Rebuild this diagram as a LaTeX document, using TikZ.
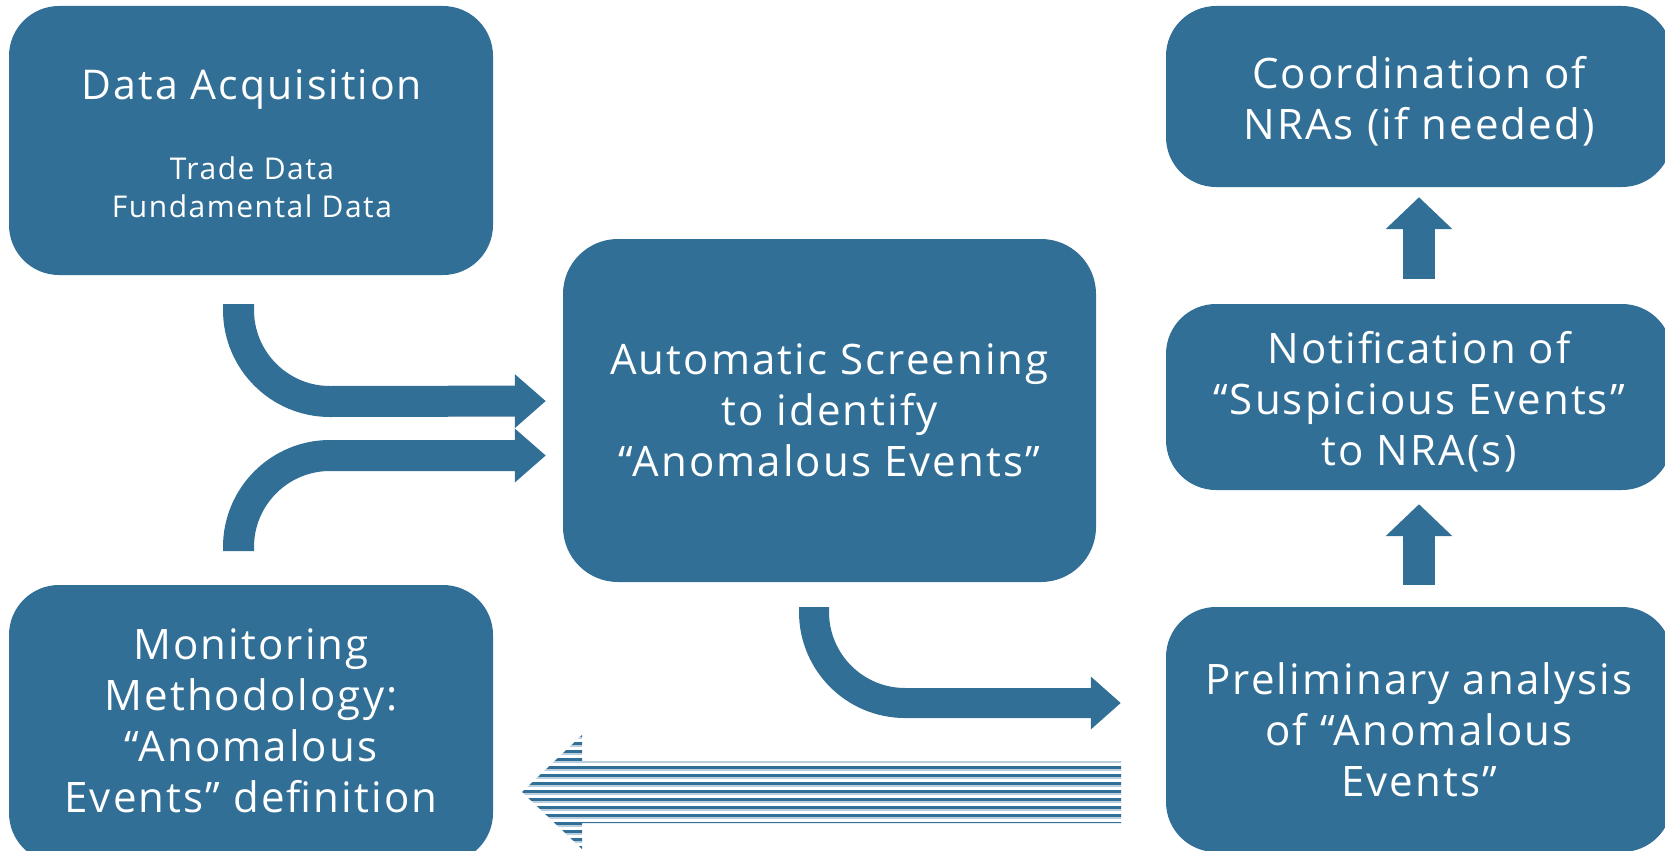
\documentclass[tikz,border=0pt]{standalone}
\usepackage{fontspec}
\setmainfont{Open Sans}[LetterSpace=5]
\usetikzlibrary{arrows.meta}
\definecolor{boxblue}{RGB}{49,111,150}
\definecolor{stripelight}{RGB}{185,207,223}
\begin{document}
\begin{tikzpicture}[x=1pt,y=-1pt,
  box/.style={fill=boxblue, rounded corners=50pt, inner sep=0pt, text=white, align=center, font=\fontsize{42}{51}\selectfont},
  boxtext/.style={text=white, align=center, inner sep=0pt, font=\fontsize{42}{51}\selectfont},
  bentarrow/.style={draw=boxblue, line width=31pt, -{Triangle[length=31pt,width=52pt]}},
  uparrow/.style={draw=boxblue, line width=32pt, -{Triangle[length=32pt,width=65pt]}},
]
\clip (0,0) rectangle (1665,851);
% boxes
\node[box, minimum width=484pt, minimum height=269pt] (acq) at (251,140.5) {};
\node[boxtext, font=\fontsize{41}{50}\selectfont] (acqtitle) at (252,89) {Data Acquisition};
\node[boxtext, font=\fontsize{30}{38}\selectfont] (acqsub) at (252,187) {Trade Data\\Fundamental Data};
\node[box, minimum width=533pt, minimum height=343pt, rounded corners=55pt] (auto) at (829.5,410.5) {Automatic Screening\\to identify\\“Anomalous Events”};
\node[box, minimum width=484pt, minimum height=278pt] (mon) at (251,724) {};
\node[boxtext] (montext) at (251,721) {Monitoring\\Methodology:\\“Anomalous\\Events” definition};
\node[box, minimum width=506pt, minimum height=181pt] (coord) at (1419,96.5) {};
\node[boxtext] (coordtext) at (1419,101.5) {Coordination of\\NRAs (if needed)};
\node[box, minimum width=506pt, minimum height=186pt] (notif) at (1419,397) {};
\node[boxtext] (notiftext) at (1419,401.5) {Notification of\\“Suspicious Events”\\to NRA(s)};
\node[box, minimum width=506pt, minimum height=245pt] (prelim) at (1419,729.5) {Preliminary analysis\\of “Anomalous\\Events”};
% bent arrows into screening
\coordinate (a1) at (238.5,304);
\coordinate (a2) at (238.5,551);
\coordinate (a3) at (814,607);
\draw[bentarrow, shorten >=17pt] (a1) -- ++(0,6) arc[start angle=180, end angle=90, radius=91.5] -- ([yshift=9.5pt]auto.west);
\draw[bentarrow, shorten >=17pt] (a2) -- ++(0,-4) arc[start angle=180, end angle=270, radius=91.5] -- ([yshift=-45pt]auto.west);
\draw[bentarrow, line width=30pt, -{Triangle[length=30pt,width=51pt]}, shorten >=45pt] (a3) -- ++(0,5) arc[start angle=180, end angle=90, radius=91] -- ([yshift=26.5pt]prelim.west);
% up arrows
\draw[uparrow, shorten <=22pt, shorten >=14pt] (prelim.north) -- (notif.south);
\draw[uparrow, shorten <=25pt, shorten >=10pt] (notif.north) -- (coord.south);
% striped arrow back to methodology
\coordinate (sa) at (1121,792);
\coordinate (sb) at (522,792);
\begin{scope}
  \clip (sa) ++(0,-31) -- (582,761) -- (582,735) -- (sb) -- (582,849) -- (582,823) -- (1121,823) -- cycle;
  \fill[white] (500,730) rectangle (1130,851);
  \foreach \k in {-4,...,10} {
    \fill[boxblue] (500,{765.6+8*\k}) rectangle (1130,{769.2+8*\k});
    \fill[stripelight] (500,{769.2+8*\k}) rectangle (1130,{770.8+8*\k});
  }
\end{scope}
\end{tikzpicture}
\end{document}
